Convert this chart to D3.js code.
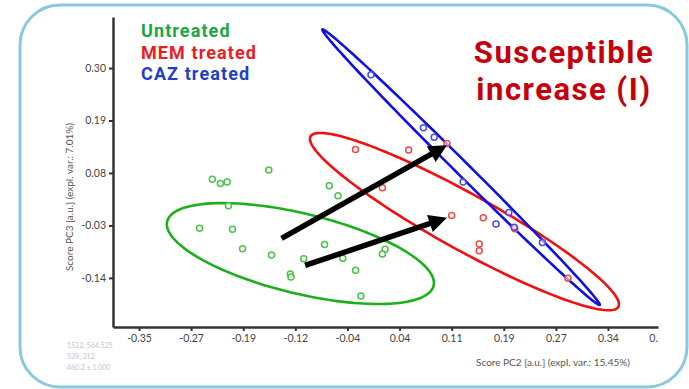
<!DOCTYPE html>
<html>
<head>
<meta charset="utf-8">
<script src="https://cdn.jsdelivr.net/npm/d3@7"></script>
<style>
  body { margin: 0; background: #fff; }
  svg { display: block; }
</style>
</head>
<body>
<script>
// PCA scores (PC2 on x, PC3 on y)
const untreatedPC2 = [-0.241, -0.229, -0.219, -0.157, -0.217, -0.260, -0.211, -0.196, -0.153, -0.125,
                      -0.124, -0.105, -0.067, -0.054, -0.074, -0.047, -0.028, -0.020, 0.016, 0.012];
const untreatedPC3 = [0.067, 0.058, 0.061, 0.086, 0.011, -0.036, -0.038, -0.079, -0.092, -0.132,
                      -0.138, -0.100, 0.053, 0.032, -0.070, -0.099, -0.124, -0.178, -0.080, -0.090];
const memPC2 = [-0.028, 0.051, 0.108, 0.012, 0.115, 0.162, 0.156, 0.156, 0.209, 0.288];
const memPC3 = [0.129, 0.128, 0.142, 0.049, -0.009, -0.014, -0.069, -0.083, -0.037, -0.141];
const cazPC2 = [-0.005, 0.073, 0.089, 0.132, 0.200, 0.181, 0.208, 0.250];
const cazPC3 = [0.286, 0.175, 0.155, 0.061, -0.003, -0.027, -0.034, -0.066];

// confidence ellipses: [centre x, centre y, major axis dx, dy, minor axis dx, dy]
const untreatedEllipse = [-0.110, -0.089, 0.1981, -0.0675, -0.0140, -0.0815];
const memEllipse = [0.134, -0.022, 0.2289, -0.1787, -0.0202, -0.0513];
const cazEllipse = [0.129, 0.092, 0.2062, -0.2887, -0.0070, -0.0100];

// annotation arrows
const arrowFrom = [[-0.138, -0.057], [-0.103, -0.114]];
const arrowTo = [[0.108, 0.138], [0.108, -0.014]];

const xTicks = [-0.35, -0.2725, -0.195, -0.1175, -0.04, 0.0375, 0.115, 0.1925, 0.27, 0.3475, 0.425];
const xTickLabels = ["-0.35", "-0.27", "-0.19", "-0.12", "-0.04", "0.04", "0.11", "0.19", "0.27", "0.34", "0."];
const yTicks = [0.30, 0.19, 0.08, -0.03, -0.14];
const yTickLabels = ["0.30", "0.19", "0.08", "-0.03", "-0.14"];

const legendLabels = ["Untreated", "MEM treated", "CAZ treated"];
const legendColors = ["#1aa64a", "#ec1c24", "#1f3fc6"];

const margin = {top: 17, right: 31, bottom: 62, left: 113};
const width = 545;
const height = 310;

const root = d3.select("body")
    .append("svg")
    .attr("width", 689)
    .attr("height", 389);

// rounded frame
root.append("rect")
    .attr("x", 20)
    .attr("y", 5)
    .attr("width", 667)
    .attr("height", 382)
    .attr("rx", 40)
    .attr("fill", "none")
    .attr("stroke", "#89c9dc")
    .attr("stroke-width", 3);

const svg = root.append("g")
    .attr("transform", "translate(" + margin.left + ", " + margin.top + ")");

const xScale = d3.scaleLinear()
    .domain([-0.3887, 0.4219])
    .range([0, width]);
const yScale = d3.scaleLinear()
    .domain([-0.243, 0.407])
    .range([height, 0]);

// X axis
const xAxis = svg.append("g")
    .attr("transform", "translate(0," + height + ")")
    .call(d3.axisBottom(xScale)
        .tickValues(xTicks)
        .tickFormat(function (d, i) { return xTickLabels[i]; })
        .tickSize(4)
        .tickSizeOuter(0)
        .tickPadding(4));
xAxis.selectAll(".tick").filter(function (d, i) { return i === xTicks.length - 1; })
    .select("line").remove();
xAxis.selectAll(".tick").filter(function (d, i) { return i === xTicks.length - 1; })
    .select("text").attr("dx", -7);

// Y axis
const yAxis = svg.append("g")
    .call(d3.axisLeft(yScale)
        .tickValues(yTicks)
        .tickFormat(function (d, i) { return yTickLabels[i]; })
        .tickSize(4)
        .tickSizeOuter(0)
        .tickPadding(3));

[xAxis, yAxis].forEach(function (ax) {
    ax.select(".domain").attr("stroke", "#333").attr("stroke-width", 2.5);
    ax.selectAll(".tick line").attr("stroke", "#333").attr("stroke-width", 2);
    ax.selectAll(".tick text")
        .attr("fill", "#444")
        .style("font-family", "Lato, sans-serif")
        .style("font-size", "10.5px");
});

// axis titles
svg.append("text")
    .attr("x", 440)
    .attr("y", 349)
    .attr("text-anchor", "middle")
    .attr("fill", "#555")
    .style("font-family", "Lato, sans-serif")
    .style("font-size", "10px")
    .text("Score PC2 [a.u.] (expl. var.: 15.45%)");
svg.append("text")
    .attr("transform", "translate(-40," + 180 + ") rotate(-90)")
    .attr("text-anchor", "middle")
    .attr("fill", "#555")
    .style("font-family", "Lato, sans-serif")
    .style("font-size", "10px")
    .text("Score PC3 [a.u.] (expl. var.: 7.01%)");

// ellipses
const ellipseLine = d3.line()
    .x(function (d) { return xScale(d[0]); })
    .y(function (d) { return yScale(d[1]); })
    .curve(d3.curveLinearClosed);

function ellipsePoints(e) {
    return d3.range(0, 2 * Math.PI, Math.PI / 90).map(function (t) {
        return [e[0] + Math.cos(t) * e[2] + Math.sin(t) * e[4],
                e[1] + Math.cos(t) * e[3] + Math.sin(t) * e[5]];
    });
}

const groups = [
    {pc2: untreatedPC2, pc3: untreatedPC3, ellipse: untreatedEllipse, line: "#1cb01c", dot: "#4cc24c"},
    {pc2: memPC2, pc3: memPC3, ellipse: memEllipse, line: "#f01010", dot: "#f04848"},
    {pc2: cazPC2, pc3: cazPC3, ellipse: cazEllipse, line: "#1010e0", dot: "#4c4ce0"}
];

groups.forEach(function (g) {
    svg.append("path")
        .datum(ellipsePoints(g.ellipse))
        .attr("fill", "none")
        .attr("stroke", g.line)
        .attr("stroke-width", 2.6)
        .attr("d", ellipseLine);
});

groups.forEach(function (g) {
    svg.append("g")
        .selectAll("circle")
        .data(g.pc2)
        .enter().append("circle")
        .attr("cx", function (d) { return xScale(d); })
        .attr("cy", function (d, i) { return yScale(g.pc3[i]); })
        .attr("r", 3)
        .attr("fill", "#fff")
        .attr("fill-opacity", 0.6)
        .attr("stroke", g.dot)
        .attr("stroke-width", 1.5);
});

// arrows
arrowFrom.forEach(function (from, i) {
    const x0 = xScale(from[0]), y0 = yScale(from[1]);
    const x1 = xScale(arrowTo[i][0]), y1 = yScale(arrowTo[i][1]);
    const len = Math.hypot(x1 - x0, y1 - y0);
    const ux = (x1 - x0) / len, uy = (y1 - y0) / len;
    const head = 18, half = 9;
    const bx = x1 - ux * head, by = y1 - uy * head;
    svg.append("line")
        .attr("x1", x0).attr("y1", y0)
        .attr("x2", bx + ux * 2).attr("y2", by + uy * 2)
        .attr("stroke", "#000")
        .attr("stroke-width", 5.5);
    svg.append("path")
        .attr("d", "M" + x1 + "," + y1 +
            "L" + (bx - uy * half) + "," + (by + ux * half) +
            "L" + (bx + uy * half) + "," + (by - ux * half) + "Z")
        .attr("fill", "#000");
});

// legend
root.append("g")
    .selectAll("text")
    .data(legendLabels)
    .enter().append("text")
    .attr("x", 141)
    .attr("y", function (d, i) { return 37 + i * 21.5; })
    .attr("fill", function (d, i) { return legendColors[i]; })
    .style("font-family", "Roboto, sans-serif")
    .style("font-weight", 700)
    .style("font-size", "18px")
    .style("letter-spacing", "1.1px")
    .text(function (d) { return d; });

// headline
const title = root.append("g")
    .attr("fill", "#c4000c")
    .style("font-family", "Roboto, sans-serif")
    .style("font-weight", 700)
    .style("font-size", "31px")
    .style("letter-spacing", "1.5px");
title.append("text").attr("text-anchor", "middle").attr("x", 564).attr("y", 63).text("Susceptible");
title.append("text").attr("text-anchor", "middle").attr("x", 564).attr("y", 100).text("increase (I)");

// faint readout in the corner
const readout = ["1532, 564.525", "539, 312", "460.2 ± 1.000"];
root.append("g")
    .selectAll("text")
    .data(readout)
    .enter().append("text")
    .attr("x", 67)
    .attr("y", function (d, i) { return 348 + i * 11; })
    .attr("fill", "#c4c4c4")
    .style("font-family", "Lato, sans-serif")
    .style("font-size", "7px")
    .text(function (d) { return d; });
</script>
</body>
</html>
